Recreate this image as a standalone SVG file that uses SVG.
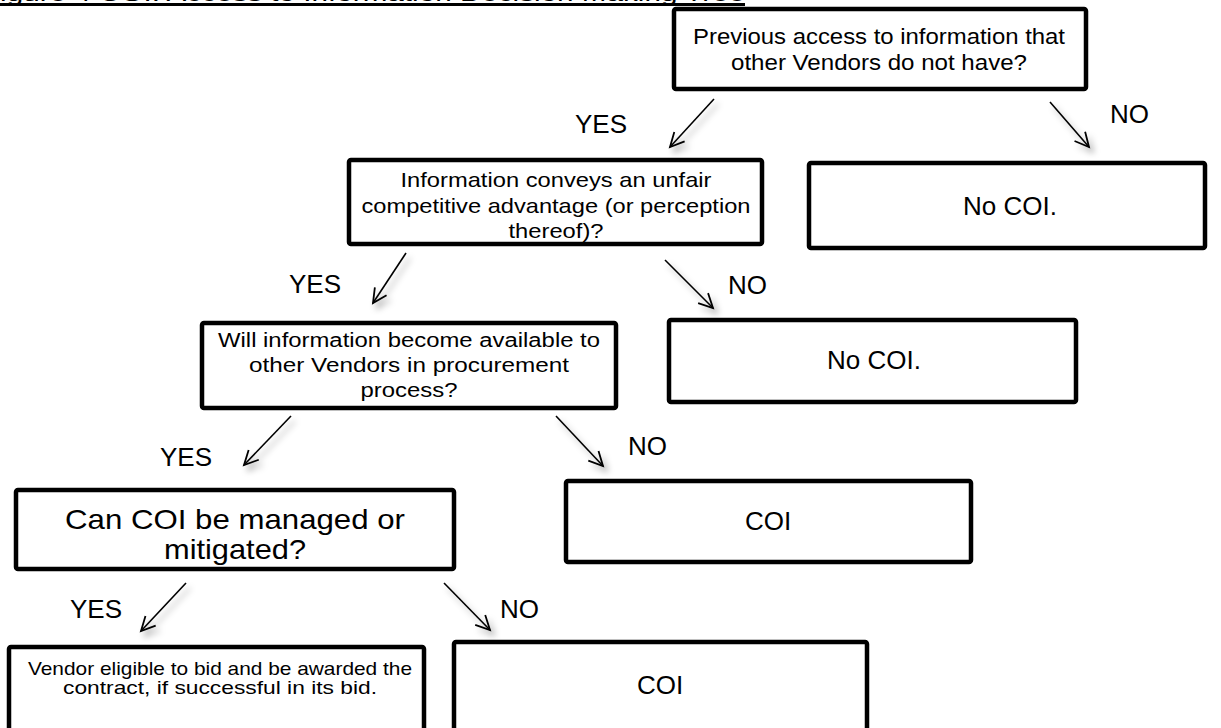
<svg xmlns="http://www.w3.org/2000/svg" width="1221" height="728" viewBox="0 0 1221 728">
<style>
text{font-family:"Liberation Sans",Arial,sans-serif;fill:#000}
.box{fill:#fff;stroke:#000;stroke-width:4.5}
.c{text-anchor:middle}
.f22{font-size:22px}
.f21{font-size:21px}
.f20{font-size:19.5px}
.f19{font-size:19px}
.f28{font-size:28px}
.f26{font-size:26px}
.lbl{font-size:26px}
.arr{stroke:#000;stroke-width:1.6;fill:none;marker-end:url(#ah)}
</style>
<defs>
<marker id="ah" markerUnits="userSpaceOnUse" markerWidth="20" markerHeight="20" refX="16" refY="8" orient="auto" viewBox="0 0 20 16">
<path d="M2,1 L16,8 L2,15" fill="none" stroke="#000" stroke-width="1.8"/>
</marker>
<filter id="sh" x="-50%" y="-50%" width="200%" height="200%">
<feDropShadow dx="4" dy="5" stdDeviation="3" flood-color="#000" flood-opacity="0.35"/>
</filter>
</defs>
<rect width="1221" height="728" fill="#fff"/>
<g id="title">
<text x="-18" y="1" font-size="20" textLength="763" lengthAdjust="spacingAndGlyphs">Figure 4 COI: Access to Information Decision Making Tree</text>
<line x1="0" y1="4.5" x2="745" y2="4.5" stroke="#000" stroke-width="3"/>
</g>
<g id="connectors" filter="url(#sh)">
<line class="arr" x1="714" y1="99" x2="670" y2="147"/>
<line class="arr" x1="1050" y1="102" x2="1089" y2="147"/>
<line class="arr" x1="406" y1="253" x2="373" y2="303"/>
<line class="arr" x1="665" y1="260" x2="713" y2="308"/>
<line class="arr" x1="291" y1="416" x2="244" y2="465"/>
<line class="arr" x1="556" y1="416" x2="603" y2="466"/>
<line class="arr" x1="186" y1="583" x2="141" y2="631"/>
<line class="arr" x1="444" y1="583" x2="490" y2="630"/>
</g>
<g id="labels">
<text class="lbl" x="575" y="133">YES</text>
<text class="lbl" x="1110" y="123">NO</text>
<text class="lbl" x="289" y="293">YES</text>
<text class="lbl" x="728" y="294">NO</text>
<text class="lbl" x="160" y="466">YES</text>
<text class="lbl" x="628" y="455">NO</text>
<text class="lbl" x="70" y="618">YES</text>
<text class="lbl" x="500" y="618">NO</text>
</g>
<g id="n1">
<rect class="box" x="674" y="9" width="412" height="80" rx="2"/>
<text class="c f22" x="879" y="44" textLength="372" lengthAdjust="spacingAndGlyphs">Previous access to information that</text>
<text class="c f22" x="879" y="70" textLength="296" lengthAdjust="spacingAndGlyphs">other Vendors do not have?</text>
</g>
<g id="n2">
<rect class="box" x="349" y="160" width="413" height="84" rx="2"/>
<text class="c f21" x="556" y="187" textLength="311" lengthAdjust="spacingAndGlyphs">Information conveys an unfair</text>
<text class="c f21" x="556" y="213" textLength="389" lengthAdjust="spacingAndGlyphs">competitive advantage (or perception</text>
<text class="c f21" x="556" y="238" textLength="95" lengthAdjust="spacingAndGlyphs">thereof)?</text>
</g>
<g id="n2no">
<rect class="box" x="809" y="163" width="396" height="85" rx="2"/>
<text class="c f26" x="1010" y="215">No COI.</text>
</g>
<g id="n3">
<rect class="box" x="202" y="323" width="414" height="85" rx="2"/>
<text class="c f20" x="409" y="347" textLength="382" lengthAdjust="spacingAndGlyphs">Will information become available to</text>
<text class="c f20" x="409" y="372" textLength="320" lengthAdjust="spacingAndGlyphs">other Vendors in procurement</text>
<text class="c f20" x="409" y="397" textLength="97" lengthAdjust="spacingAndGlyphs">process?</text>
</g>
<g id="n3no">
<rect class="box" x="669" y="320" width="407" height="82" rx="2"/>
<text class="c f26" x="874" y="369">No COI.</text>
</g>
<g id="n4">
<rect class="box" x="16" y="490" width="438" height="79" rx="2"/>
<text class="c f28" x="235" y="529" textLength="340" lengthAdjust="spacingAndGlyphs">Can COI be managed or</text>
<text class="c f28" x="235" y="559" textLength="142" lengthAdjust="spacingAndGlyphs">mitigated?</text>
</g>
<g id="n4no">
<rect class="box" x="566" y="481" width="405" height="81" rx="2"/>
<text class="c f26" x="768" y="530">COI</text>
</g>
<g id="n5">
<rect class="box" x="9" y="647" width="415" height="84" rx="2"/>
<text class="c f19" x="220" y="675" textLength="384" lengthAdjust="spacingAndGlyphs">Vendor eligible to bid and be awarded the</text>
<text class="c f19" x="220" y="694" textLength="314" lengthAdjust="spacingAndGlyphs">contract, if successful in its bid.</text>
</g>
<g id="n5no">
<rect class="box" x="454" y="642" width="413" height="90" rx="2"/>
<text class="c f26" x="660" y="694">COI</text>
</g>
</svg>
